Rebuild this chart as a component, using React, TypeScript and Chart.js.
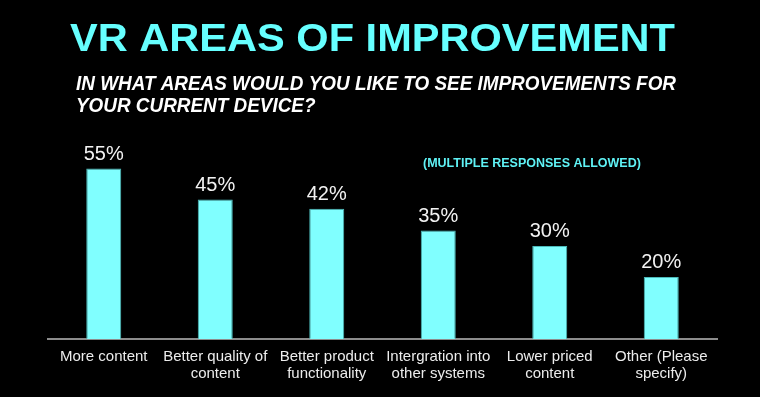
import React, { useEffect, useRef } from "react";
import { Chart, registerables } from "chart.js";

Chart.register(...registerables);

const TITLE = "VR AREAS OF IMPROVEMENT";
const SUBTITLE_LINES = [
  "IN WHAT AREAS WOULD YOU LIKE TO SEE IMPROVEMENTS FOR",
  "YOUR CURRENT DEVICE?",
];
const NOTE = "(MULTIPLE RESPONSES ALLOWED)";

const categories: string[][] = [
  ["More content"],
  ["Better quality of", "content"],
  ["Better product", "functionality"],
  ["Intergration into", "other systems"],
  ["Lower priced", "content"],
  ["Other (Please", "specify)"],
];
const values: number[] = [55, 45, 42, 35, 30, 20];

const FONT = "'Liberation Sans', Arial, Helvetica, sans-serif";

const textPlugin = {
  id: "slideText",
  afterDraw(chart: any) {
    const ctx = chart.ctx as CanvasRenderingContext2D;
    ctx.save();
    // Title, stretched to its width in the reference
    ctx.font = `bold 39px ${FONT}`;
    ctx.fillStyle = "#66ffff";
    ctx.textBaseline = "alphabetic";
    ctx.textAlign = "left";
    const tw = ctx.measureText(TITLE).width;
    const targetW = 605;
    ctx.save();
    ctx.translate(70, 51);
    ctx.scale(targetW / tw, 1);
    ctx.fillText(TITLE, 0, 0);
    ctx.restore();

    // Subtitle
    ctx.font = `italic bold 20px ${FONT}`;
    ctx.fillStyle = "#ffffff";
    const sw = ctx.measureText(SUBTITLE_LINES[0]).width;
    const sScale = 600 / sw;
    SUBTITLE_LINES.forEach((line, i) => {
      ctx.save();
      ctx.translate(76, 90 + i * 21.5);
      ctx.scale(sScale, 1);
      ctx.fillText(line, 0, 0);
      ctx.restore();
    });

    // Note
    ctx.font = `bold 12.5px ${FONT}`;
    ctx.fillStyle = "#5ff2f5";
    ctx.fillText(NOTE, 423, 167);

    // Value labels
    ctx.font = `20px ${FONT}`;
    ctx.fillStyle = "#f2f2f2";
    ctx.textAlign = "center";
    const meta = chart.getDatasetMeta(0);
    meta.data.forEach((bar: any, i: number) => {
      ctx.fillText(`${values[i]}%`, bar.x, bar.y - 9);
    });
    ctx.restore();
  },
};

export default function App() {
  const ref = useRef<HTMLCanvasElement>(null);
  useEffect(() => {
    document.body.style.margin = "0";
    document.body.style.background = "#000";
    const chart = new Chart(ref.current!, {
      type: "bar",
      data: {
        labels: categories,
        datasets: [
          {
            data: values,
            backgroundColor: "#80ffff",
            borderColor: "#4cbaba",
            borderWidth: 1,
            barPercentage: 0.314,
            categoryPercentage: 1,
          },
        ],
      },
      options: {
        responsive: false,
        animation: false,
        layout: { padding: { top: 153, left: 48, right: 43, bottom: 5 } },
        plugins: {
          legend: { display: false },
          title: { display: false },
          tooltip: { enabled: false },
        },
        scales: {
          x: {
            grid: { display: false, drawTicks: false },
            border: { display: true, color: "#8c8c8c", width: 2 },
            ticks: {
              color: "#ececec",
              font: { family: FONT, size: 15, lineHeight: 1.1 },
              padding: 10,
              maxRotation: 0,
              autoSkip: false,
            },
          },
          y: {
            display: false,
            min: 0,
            max: 60,
          },
        },
      },
      plugins: [textPlugin],
    });
    return () => chart.destroy();
  }, []);
  return (
    <div style={{ width: 760, height: 397, background: "#000" }}>
      <canvas ref={ref} width={760} height={397} style={{ display: "block" }} />
    </div>
  );
}
